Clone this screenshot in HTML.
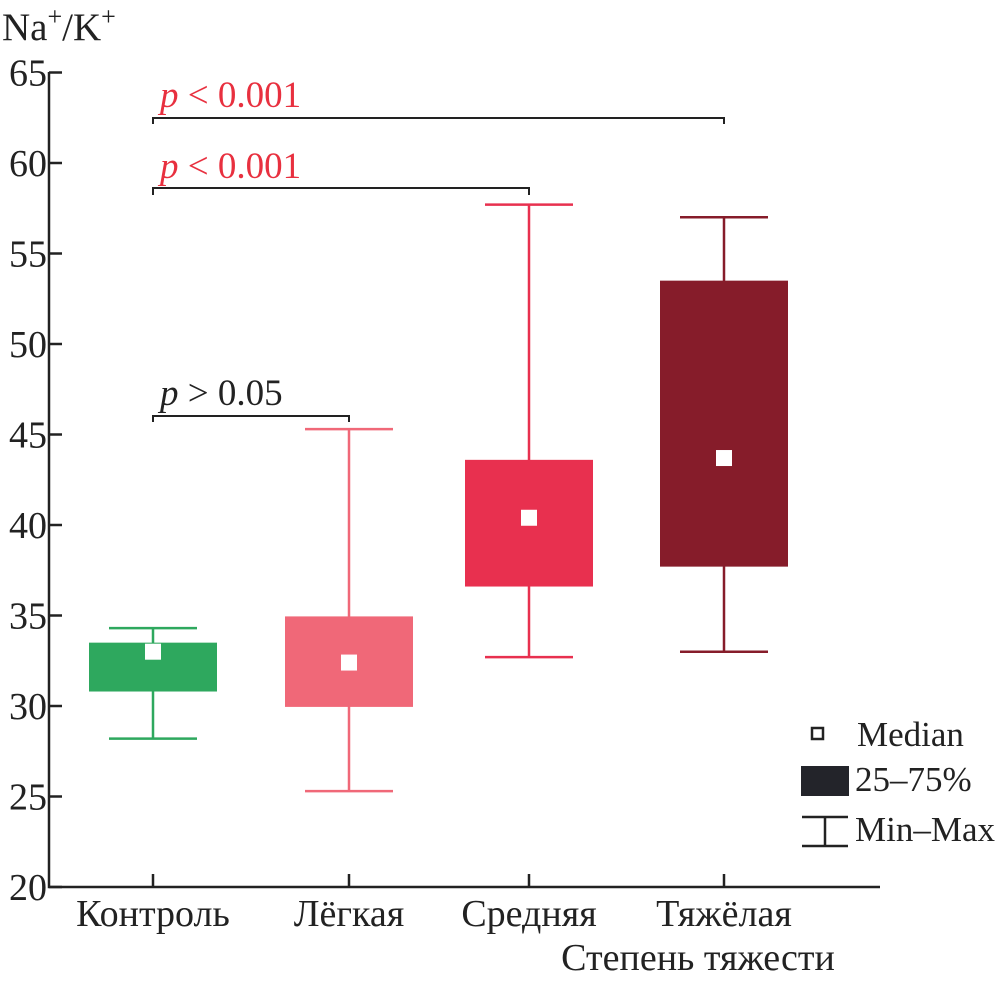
<!DOCTYPE html>
<html><head><meta charset="utf-8"><style>
body{margin:0;background:#fff}
svg text{font-family:"Liberation Serif",serif}
</style></head><body>
<svg width="997" height="981" viewBox="0 0 997 981">
<g id="axes"></g><g id="boxes"></g>
<g stroke="#222" stroke-width="2" fill="none">
<path d="M153,124V118H724V124"/>
<path d="M153,195V188H529V195"/>
<path d="M153,422V416H349V422"/>
</g>
<text x="160" y="107" font-size="37" fill="#e8303f"><tspan font-style="italic">p</tspan> &lt; 0.001</text>
<text x="160" y="178" font-size="37" fill="#e8303f"><tspan font-style="italic">p</tspan> &lt; 0.001</text>
<text x="160" y="405" font-size="37" fill="#222"><tspan font-style="italic">p</tspan> &gt; 0.05</text>
<text x="2" y="40" font-size="39" fill="#222">Na<tspan font-size="26" dy="-15">+</tspan><tspan dy="15">/K</tspan><tspan font-size="26" dy="-15">+</tspan></text>
<text x="698" y="970" font-size="38" text-anchor="middle" fill="#222">Степень тяжести</text>
<g>
<rect x="812" y="728" width="11" height="11" fill="#fff" stroke="#222" stroke-width="2.5"/>
<text x="857" y="746" font-size="35" fill="#222">Median</text>
<rect x="801" y="766" width="48" height="30" fill="#23242a"/>
<text x="855" y="791" font-size="35" fill="#222">25–75%</text>
<path d="M802,817H848M825,817V846M802,846H848" stroke="#222" stroke-width="2.5" fill="none"/>
<text x="855" y="841" font-size="35" fill="#222">Min–Max</text>
</g>
</svg>
<script>
const categories=["Контроль","Лёгкая","Средняя","Тяжёлая"];
const mins=[28.2,25.3,32.7,33.0];
const q1s=[30.8,29.95,36.6,37.7];
const medians=[33.0,32.4,40.4,43.7];
const q3s=[33.5,34.95,43.6,53.5];
const maxs=[34.3,45.3,57.7,57.0];
const colors=["#2ea85e","#f06878","#e8304f","#861c2a"];
const yTicks=[20,25,30,35,40,45,50,55,60,65];
const NS="http://www.w3.org/2000/svg";
const y=v=>887-(v-20)*18.1;
const x=i=>[153,349,529,724][i];
function mk(t,a,p){const e=document.createElementNS(NS,t);for(const k in a)e.setAttribute(k,a[k]);p.appendChild(e);return e;}
const ax=document.getElementById('axes');
const axl=mk('path',{d:'M49,72V887H880',stroke:'#222','stroke-width':2.5,fill:'none'},ax);


yTicks.forEach(v=>{
 const t=mk('line',{x1:49,x2:62,y1:y(v),y2:y(v),stroke:'#222','stroke-width':2.5},ax);
 
 
 const l=mk('text',{x:47,y:y(v)+13,'font-size':38,'text-anchor':'end',fill:'#222'},ax);
 l.textContent=v;
 
 
});
const bx=document.getElementById('boxes');
categories.forEach((c,i)=>{
 const cx=x(i),col=colors[i];
 const t=mk('line',{x1:cx,x2:cx,y1:887,y2:874,stroke:'#222','stroke-width':2.5},ax);
 
 
 const l=mk('text',{x:cx,y:926,'font-size':38,'text-anchor':'middle',fill:'#222'},ax);
 l.textContent=c;
 
 
 const g=mk('g',{},bx);
 
 
 mk('path',{d:`M${cx-44},${y(maxs[i])}H${cx+44}M${cx},${y(maxs[i])}V${y(mins[i])}M${cx-44},${y(mins[i])}H${cx+44}`,stroke:col,'stroke-width':2.5,fill:'none'},g);
 mk('rect',{x:cx-64,y:y(q3s[i]),width:128,height:y(q1s[i])-y(q3s[i]),fill:col},g);
 mk('rect',{x:cx-8,y:y(medians[i])-8,width:16,height:16,fill:'#fff'},g);
});
</script>
</body></html>
